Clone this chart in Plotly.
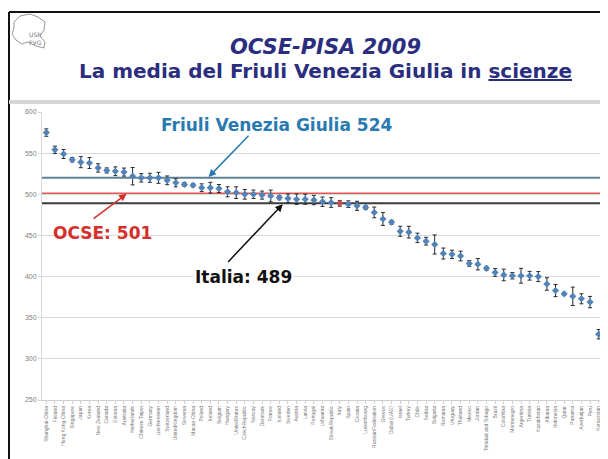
import plotly.graph_objects as go

countries = ["Shanghai-China", "Finland", "Hong Kong-China", "Singapore", "Japan", "Korea",
             "New Zealand", "Canada", "Estonia", "Australia", "Netherlands", "Chinese Taipei",
             "Germany", "Liechtenstein", "Switzerland", "UnitedKingdom", "Slovenia", "Macao-China",
             "Poland", "Ireland", "Belgium", "Hungary", "UnitedStates", "CzechRepublic", "Norway",
             "Denmark", "France", "Iceland", "Sweden", "Austria", "Latvia", "Portugal", "Lithuania",
             "SlovakRepublic", "Italy", "Spain", "Croatia", "Luxembourg", "RussianFederation",
             "Greece", "Dubai (UAE)", "Israel", "Turkey", "Chile", "Serbia", "Bulgaria", "Romania",
             "Uruguay", "Thailand", "Mexico", "Jordan", "Trinidad and Tobago", "Brazil", "Colombia",
             "Montenegro", "Argentina", "Tunisia", "Kazakhstan", "Albania", "Indonesia", "Qatar",
             "Panama", "Azerbaijan", "Peru", "Kyrgyzstan"]
scores = [575, 554, 549, 542, 539, 538, 532, 529, 528, 527, 522, 520, 520, 520, 517, 514, 512, 511,
          508, 508, 507, 503, 502, 500, 500, 499, 498, 496, 495, 494, 494, 493, 491, 490, 489, 488,
          486, 484, 478, 470, 466, 455, 454, 447, 443, 439, 428, 427, 425, 416, 415, 410, 405, 402,
          401, 401, 401, 400, 391, 383, 379, 376, 373, 369, 330]
ci95 = [4.5, 4.5, 5.5, 2.7, 6.7, 6.7, 5.1, 3.1, 5.3, 4.9, 10.6, 5.1, 5.5, 6.7, 5.3, 4.9, 2.2, 2.0,
        4.7, 6.5, 4.9, 6.1, 7.1, 5.9, 5.1, 4.9, 7.1, 2.7, 5.3, 6.3, 6.1, 5.7, 5.7, 5.9, 3.5, 4.1,
        5.5, 2.4, 6.5, 7.8, 2.4, 6.1, 7.1, 5.7, 4.7, 11.6, 6.7, 5.1, 5.9, 3.5, 6.9, 2.4, 4.7, 7.1,
        3.9, 9.0, 5.3, 6.1, 7.6, 7.4, 1.8, 11.2, 6.1, 6.9, 5.7]

highlight = "Italy"
friuli_line = 520
ocse_line = 501
italia_line = 489
y_ticks = [250, 300, 350, 400, 450, 500, 550, 600]

marker_colors = ["#c0504d" if c == highlight else "#5283b8" for c in countries]

fig = go.Figure()
fig.add_trace(go.Scatter(
    x=countries, y=scores, mode="markers",
    marker=dict(symbol="diamond", size=5.5, color=marker_colors),
    error_y=dict(type="data", array=ci95, color="#2a2a2a", thickness=1, width=2),
    showlegend=False, cliponaxis=False,
))

for val, col in [(friuli_line, "#5f8298"), (ocse_line, "#e05a55"), (italia_line, "#3c3c3c")]:
    fig.add_shape(type="line", xref="paper", yref="y", x0=0, x1=1, y0=val, y1=val,
                  line=dict(color=col, width=2), layer="below")


def px(x):
    return (x - 42) / 561


def py(y):
    return (400 - y) / 288


# slide frame
fig.add_shape(type="line", xref="paper", yref="paper", x0=px(9), x1=px(612), y0=py(12), y1=py(12),
              line=dict(color="#111111", width=2))
fig.add_shape(type="line", xref="paper", yref="paper", x0=px(9), x1=px(9), y0=py(12), y1=py(470),
              line=dict(color="#111111", width=2))
fig.add_shape(type="line", xref="paper", yref="paper", x0=px(9), x1=px(612), y0=py(102), y1=py(102),
              line=dict(color="#d6d6d6", width=4))

# logo outline
pts = [(14, 22), (20, 16), (30, 14), (38, 17), (45, 22), (44, 30), (40, 36), (45, 42), (44, 48),
       (36, 46), (28, 42), (22, 44), (16, 40), (12, 34), (14, 28)]
path = "M " + " L ".join(f"{px(a):.4f},{py(b):.4f}" for a, b in pts) + " Z"
fig.add_shape(type="path", xref="paper", yref="paper", path=path,
              line=dict(color="#9a9a9a", width=1))
fig.add_annotation(xref="paper", yref="paper", x=px(27), y=py(29), showarrow=False,
                   text="USR<br>FVG", font=dict(family="DejaVu Sans", size=6, color="#777777"))

title_font = "DejaVu Sans"
fig.add_annotation(xref="paper", yref="paper", x=px(325), y=py(33), showarrow=False,
                   text="<b><i>OCSE-PISA 2009</i></b>",
                   font=dict(family=title_font, size=21, color="#2b2d7e"))
fig.add_annotation(xref="paper", yref="paper", x=px(325), y=py(57), showarrow=False,
                   text="<b>La media del Friuli Venezia Giulia in <u>scienze</u></b>",
                   font=dict(family=title_font, size=20, color="#2b2d7e"))

# labels
fig.add_annotation(x=26.65, y=584, showarrow=False, text="<b>Friuli Venezia Giulia 524</b>",
                   font=dict(family=title_font, size=17, color="#2a7ab2"))
fig.add_annotation(x=6.5, y=453, showarrow=False, text="<b>OCSE: 501</b>",
                   font=dict(family=title_font, size=17, color="#d4302b"))
fig.add_annotation(x=22.8, y=399.5, showarrow=False, text="<b>Italia: 489</b>", bgcolor="white",
                   font=dict(family=title_font, size=17, color="#111111"))

# arrows
for hx, hy, tx, ty, col in [(18.8, 521, 23.6, 573, "#2a7ab2"),
                            (9.3, 500.5, 5.3, 469, "#d4302b"),
                            (27.4, 488, 20.9, 416, "#111111")]:
    fig.add_annotation(x=hx, y=hy, ax=tx, ay=ty, axref="x", ayref="y", text="",
                       showarrow=True, arrowhead=2, arrowsize=1, arrowwidth=1.5, arrowcolor=col)

# page body has an 8px margin, so the figure is 8px smaller and shifted
fig.update_layout(
    width=600, height=451,
    margin=dict(l=34, r=5, t=104, b=59),
    paper_bgcolor="white", plot_bgcolor="white",
    font=dict(family="Liberation Sans"),
    xaxis=dict(type="category", range=[-0.5, 64.5], tickangle=-90,
               tickfont=dict(size=5, color="#777777"), showgrid=False,
               showline=True, linecolor="#cfcfcf", ticks="outside", ticklen=3, tickcolor="#cfcfcf"),
    yaxis=dict(range=[250, 600], tickvals=y_ticks, tickfont=dict(size=7, color="#808080"),
               showgrid=True, gridcolor="#d9d9d9", gridwidth=1, zeroline=False,
               showline=True, linecolor="#d9d9d9", ticks="outside", ticklen=3, tickcolor="#d9d9d9"),
)

fig.write_html("out.html")
